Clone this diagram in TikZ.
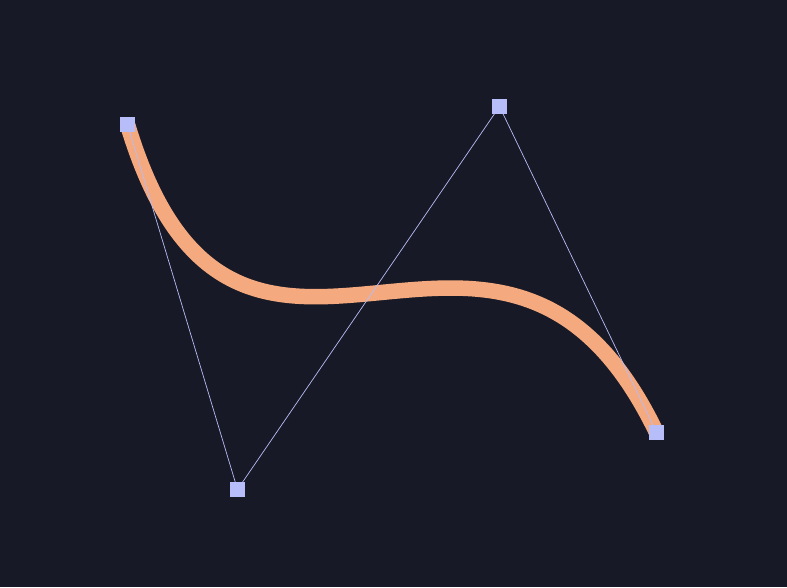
\documentclass[tikz,border=0pt]{standalone}
\usepackage{tikz}
\definecolor{bgc}{HTML}{181926}
\definecolor{peach}{HTML}{F5A97F}
\definecolor{lav}{HTML}{B7BDF8}
\begin{document}
\begin{tikzpicture}[x=1pt,y=-1pt,
  curveline/.style={draw=peach,line width=15.5pt,line cap=butt},
  polyline/.style={draw=lav,line width=0.7pt},
  handle/.style={fill=lav,draw=none,minimum size=15pt,inner sep=0pt,rectangle}]
\fill[bgc] (0,0) rectangle (787,587);
\useasboundingbox (0,0) rectangle (787,587);
\coordinate (p0) at (127.5,124.5);
\coordinate (p1) at (237.5,489.5);
\coordinate (p2) at (499.5,106.5);
\coordinate (p3) at (656.5,432.5);
\draw[curveline] (p0) .. controls (p1) and (p2) .. (p3);
\draw[polyline] (p0) -- (p1) -- (p2) -- (p3);
\node[handle] (h0) at (p0) {};
\node[handle] (h1) at (p1) {};
\node[handle] (h2) at (p2) {};
\node[handle] (h3) at (p3) {};
\end{tikzpicture}
\end{document}
